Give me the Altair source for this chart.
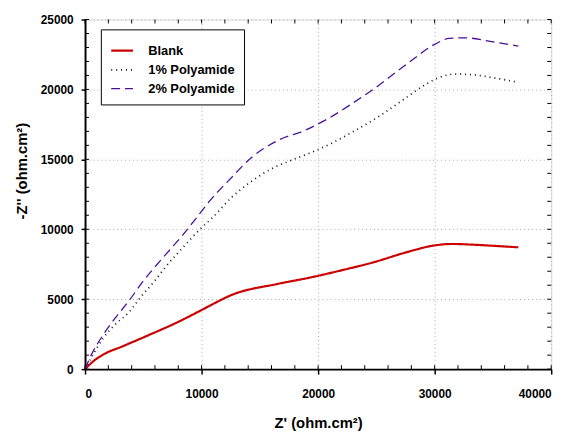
import altair as alt
import pandas as pd

# ---- data ----
blank_x = [0, 720, 1560, 3250, 5510, 7750, 10010, 10720, 12540, 16500, 19150, 21980, 24790, 27600, 29860, 31550, 33240, 35200, 37180]
blank_y = [0, 570, 1040, 1640, 2450, 3280, 4230, 4540, 5290, 6090, 6520, 7060, 7650, 8360, 8830, 8950, 8900, 8810, 8710]

p1_x = [0, 600, 1560, 2550, 3810, 4790, 5910, 6900, 8030, 10160, 10850, 12540, 14230, 16060, 17750, 19440, 21130, 22960, 25360, 27600, 29290, 30420, 31820, 33240, 35200, 36890]
p1_y = [0, 900, 2220, 3160, 4110, 5170, 6240, 7300, 8360, 10240, 10760, 12250, 13400, 14350, 14950, 15500, 16140, 16960, 18150, 19440, 20390, 20860, 21100, 21050, 20810, 20550]

p2_x = [0, 580, 1560, 2690, 3810, 4940, 6350, 7340, 8320, 10010, 10570, 12400, 14380, 16620, 18880, 20850, 23100, 24790, 27600, 30000, 31270, 32670, 34650, 37180]
p2_y = [0, 1090, 2460, 3760, 4930, 6240, 7650, 8590, 9530, 11300, 11900, 13550, 15200, 16380, 17080, 17910, 19090, 20040, 21810, 23220, 23650, 23690, 23450, 23100]

series = ["Blank", "1% Polyamide", "2% Polyamide"]
colors = ["#cc0000", "#111111", "#4b0f9a"]
dashes = [[1, 0], [1, 4], [9, 5]]
widths = [2.2, 1.3, 2.5]

x_major = [0, 10000, 20000, 30000, 40000]
y_major = [0, 5000, 10000, 15000, 20000, 25000]
x_minor = [v for v in range(0, 40001, 2000)]
y_minor = [v for v in range(0, 25001, 1000)]

rows = []
for name, xs, ys in zip(series, [blank_x, p1_x, p2_x], [blank_y, p1_y, p2_y]):
    for i, (a, b) in enumerate(zip(xs, ys)):
        rows.append({"series": name, "x": a, "y": b, "order": i})
df = pd.DataFrame(rows)

W, H = 472, 354
FONT = "Liberation Sans"

xscale = alt.Scale(domain=[0, 40000], nice=False, zero=False)
yscale = alt.Scale(domain=[0, 25000], nice=False, zero=False)

x_axis = alt.Axis(
    values=x_major, format="d", title="Z' (ohm.cm²)",
    titleFontSize=15, titleFontWeight="bold", titleFont=FONT, titleColor="black", titlePadding=16,
    labelFontSize=12, labelFontWeight="bold", labelFont=FONT, labelColor="black", labelPadding=15,
    tickSize=5, tickColor="black", tickWidth=1.5,
    domainColor="black", domainWidth=2,
    grid=True, gridDash=[1, 3], gridColor="#aaaaaa", gridWidth=1,
)
y_axis = alt.Axis(
    values=y_major, format="d", title="-Z'' (ohm.cm²)",
    titleFontSize=15, titleFontWeight="bold", titleFont=FONT, titleColor="black",
    titleX=-64, titleY=153, titleBaseline="middle",
    labelFontSize=12, labelFontWeight="bold", labelFont=FONT, labelColor="black", labelPadding=8,
    tickSize=4, tickColor="black", tickWidth=1.5,
    domainColor="black", domainWidth=2,
    grid=True, gridDash=[1, 3], gridColor="#aaaaaa", gridWidth=1,
)

legend = alt.Legend(
    title=None, orient="none", legendX=16, legendY=10,
    symbolType="stroke", symbolSize=484, symbolStrokeWidth=2,
    labelFont=FONT, labelFontSize=13, labelFontWeight="bold", labelColor="black",
    labelOffset=14, rowPadding=0, padding=9,
    strokeColor="black", fillColor="white", cornerRadius=0,
)

lines = alt.Chart(df).mark_line(interpolate="monotone").encode(
    x=alt.X("x:Q", scale=xscale, axis=x_axis),
    y=alt.Y("y:Q", scale=yscale, axis=y_axis),
    order="order:Q",
    color=alt.Color("series:N", scale=alt.Scale(domain=series, range=colors), legend=legend),
    strokeDash=alt.StrokeDash("series:N", scale=alt.Scale(domain=series, range=dashes), legend=legend),
    strokeWidth=alt.StrokeWidth("series:N", scale=alt.Scale(domain=series, range=widths), legend=None),
)

ym = pd.DataFrame({"v": y_minor})
xm = pd.DataFrame({"v": x_minor})

left_ticks = alt.Chart(ym).mark_rule(color="black", strokeWidth=1).encode(
    y=alt.Y("v:Q", scale=yscale), x=alt.value(0), x2=alt.value(4))
right_ticks = alt.Chart(ym).mark_rule(color="black", strokeWidth=1).encode(
    y=alt.Y("v:Q", scale=yscale), x=alt.value(W - 4), x2=alt.value(W))
bottom_ticks = alt.Chart(xm).mark_rule(color="black", strokeWidth=1).encode(
    x=alt.X("v:Q", scale=xscale), y=alt.value(H - 4), y2=alt.value(H))
top_ticks = alt.Chart(xm).mark_rule(color="black", strokeWidth=1).encode(
    x=alt.X("v:Q", scale=xscale), y=alt.value(0), y2=alt.value(4))

chart = alt.layer(lines, left_ticks, right_ticks, bottom_ticks, top_ticks).properties(
    width=W, height=H,
    autosize=alt.AutoSizeParams(type="none"),
    padding={"left": 78, "top": 9, "right": 17, "bottom": 60},
).configure_view(stroke="black", strokeWidth=2).configure(font=FONT, background="white")

chart.save("out.html", embed_options={"renderer": "svg", "actions": False})
